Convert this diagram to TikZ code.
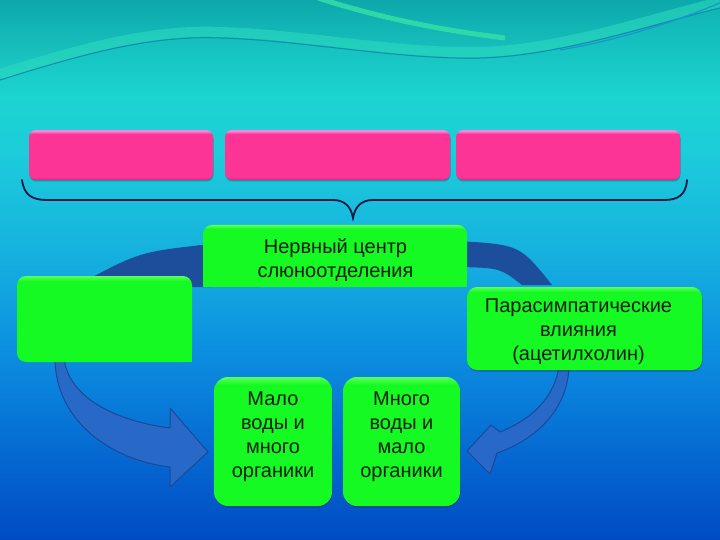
\documentclass[tikz,border=0pt]{standalone}
\usepackage{fontspec}
\setmainfont{Liberation Sans}
\usetikzlibrary{shadows}
\definecolor{bg0}{RGB}{0,75,195}
\definecolor{bg1}{RGB}{5,105,210}
\definecolor{bg2}{RGB}{12,145,225}
\definecolor{bg3}{RGB}{22,178,222}
\definecolor{bg4}{RGB}{28,205,218}
\definecolor{bg5}{RGB}{28,212,208}
\definecolor{bg6}{RGB}{15,178,178}
\definecolor{tealtop}{RGB}{12,168,172}
\definecolor{tealband}{RGB}{30,205,198}
\definecolor{waveline}{RGB}{20,140,170}
\definecolor{wavelight}{RGB}{45,222,190}
\definecolor{brightarc}{RGB}{55,226,165}
\definecolor{bluewave}{RGB}{25,150,205}
\definecolor{pk}{RGB}{252,52,150}
\definecolor{pkdark}{RGB}{225,40,130}
\definecolor{pklight}{RGB}{240,140,215}
\definecolor{gr}{RGB}{22,250,35}
\definecolor{grlight}{RGB}{90,255,90}
\definecolor{txtcol}{RGB}{10,30,10}
\definecolor{arcdark}{RGB}{28,78,155}
\definecolor{arrowfill}{RGB}{40,105,200}
\definecolor{arrowline}{RGB}{28,72,150}
\definecolor{bracecol}{RGB}{10,25,70}
\pgfdeclareverticalshading{bgshade}{100bp}{color(0bp)=(bg0); color(25bp)=(bg0); color(33bp)=(bg1); color(43bp)=(bg2); color(52bp)=(bg3); color(61bp)=(bg4); color(66bp)=(bg5); color(75bp)=(bg6); color(100bp)=(bg6)}
\pgfdeclareverticalshading{pinkshade}{100bp}{color(0bp)=(pkdark); color(25bp)=(pkdark); color(28bp)=(pk); color(71bp)=(pk); color(74bp)=(pklight); color(100bp)=(pklight)}
\pgfdeclareverticalshading{greenshade}{100bp}{color(0bp)=(gr); color(25bp)=(gr); color(72bp)=(gr); color(75bp)=(grlight); color(100bp)=(grlight)}
\tikzset{
  pinkbox/.style={rectangle, rounded corners=7pt, shading=pinkshade, minimum height=50pt, inner sep=0pt,
    drop shadow={shadow xshift=0.5pt, shadow yshift=-1.5pt, opacity=0.25, fill=black}},
  greenbox/.style={rectangle, rounded corners=#1, shading=greenshade, inner sep=0pt},
  greenbox/.default=10pt,
  gshadow/.style={drop shadow={shadow xshift=0.5pt, shadow yshift=-1.5pt, opacity=0.25, fill=black}},
  txt/.style={align=center, text=txtcol, font=\fontsize{20}{24}\selectfont, inner sep=0pt},
  darkarc/.style={fill=arcdark},
  bigarrow/.style={fill=arrowfill, draw=arrowline, line width=1pt, line join=round},
  bracestyle/.style={draw=bracecol, line width=1.8pt, line cap=round}
}
\begin{document}
\begin{tikzpicture}[x=1pt,y=-1pt]
\useasboundingbox (0,0) rectangle (720,540);
% background
\shade[shading=bgshade] (0,0) rectangle (720,540);
% top decoration
\shade[top color=tealtop, bottom color=tealband] (0,0) -- (0,80) .. controls (80,55) and (150,35) .. (220,38)
  .. controls (300,40) and (400,60) .. (480,58) .. controls (560,56) and (650,25) .. (720,8) -- (720,0) -- cycle;
\draw[wavelight, line width=10pt, opacity=0.55] (0,74) .. controls (80,49) and (150,29) .. (220,32)
  .. controls (300,34) and (400,54) .. (480,52) .. controls (560,50) and (650,19) .. (720,2);
\draw[waveline, line width=1pt] (0,80) .. controls (80,55) and (150,35) .. (220,38)
  .. controls (300,40) and (400,60) .. (480,58) .. controls (560,56) and (650,25) .. (720,8);
\draw[brightarc, line width=5pt, opacity=0.8] (318,-2) .. controls (380,18) and (440,30) .. (505,38);
\draw[bluewave, line width=1.2pt] (560,50) .. controls (620,40) and (680,20) .. (722,2);
% upper circular arcs
\fill[darkarc] (85,281) .. controls (140,252) .. (210,244) -- (260,240) -- (260,287) -- (85,287) -- cycle;
\fill[darkarc] (460,241) .. controls (520,245) .. (552,285) -- (522,285) .. controls (500,268) .. (460,267) -- cycle;
% lower curved arrows
\filldraw[bigarrow] (55,358) .. controls (55,420) and (110,460) .. (170,467) -- (170,487) -- (208,452)
  -- (170,408) -- (170,428) .. controls (110,420) and (68,395) .. (64,358) -- cycle;
\filldraw[bigarrow] (569,366) .. controls (568,410) and (535,440) .. (497,453) -- (490,474) -- (467,451)
  -- (491,425) -- (500,432) .. controls (535,418) and (555,395) .. (559,366) -- cycle;
% pink boxes
\node[pinkbox, minimum width=184pt] (p1) at (121,155) {};
\node[pinkbox, minimum width=225pt] (p2) at (337.5,155) {};
\node[pinkbox, minimum width=224pt] (p3) at (568,155) {};
% brace
\draw[bracestyle] (22,180) .. controls (24,195) and (32,200) .. (47,200) -- (333,200)
  .. controls (345,200) and (351,207) .. (353,218) .. controls (355,207) and (361,200) .. (373,200)
  -- (664,200) .. controls (678,200) and (686,195) .. (687,180);
% green boxes
\node[greenbox=9pt, minimum width=264pt, minimum height=62pt] (nerve) at (335,256) {};
\fill[gr] (nerve.south west) rectangle ++(12,-12);
\fill[gr] (nerve.south east) rectangle ++(-12,-12);
\node[greenbox=9pt, minimum width=175pt, minimum height=86pt] (left) at (104.5,319) {};
\fill[gr] (left.south east) rectangle ++(-12,-12);
\node[greenbox=10pt, gshadow, minimum width=235pt, minimum height=83pt] (right) at (584.5,328.5) {};
\node[greenbox=14pt, gshadow, minimum width=118pt, minimum height=129pt] (b1) at (273,441.5) {};
\node[greenbox=14pt, gshadow, minimum width=117pt, minimum height=129pt] (b2) at (401.5,441.5) {};
% texts
\node[txt] (nervet) at (335.5,260) {Нервный центр\\слюноотделения};
\node[txt] (rightt) at (578.5,332) {Парасимпатические\\влияния\\(ацетилхолин)};
\node[txt] (b1t) at (273,437) {Мало\\воды и\\много\\органики};
\node[txt] (b2t) at (401.5,437) {Много\\воды и\\мало\\органики};
\end{tikzpicture}
\end{document}
